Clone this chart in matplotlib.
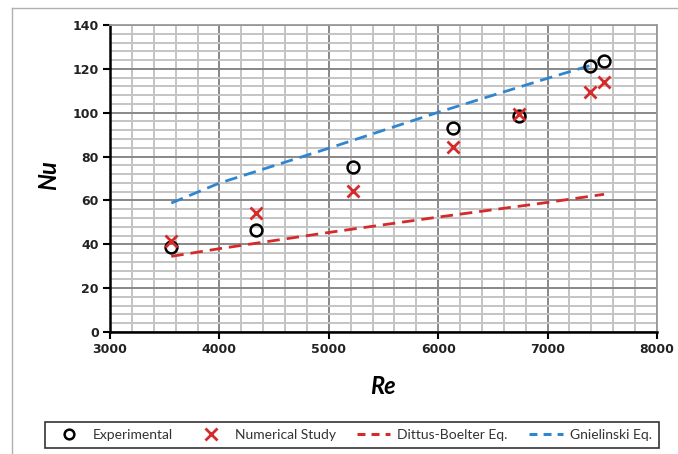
import matplotlib.pyplot as plt
from matplotlib.ticker import MultipleLocator
from matplotlib.lines import Line2D

# values
re_exp = [3560, 4335, 5221, 6135, 6739, 7388, 7516]
nu_exp = [38.8, 46.5, 75.2, 92.9, 98.4, 121.2, 123.5]

re_num = [3558, 4335, 5221, 6135, 6739, 7388, 7516]
nu_num = [41.5, 54.2, 64.3, 84.3, 99.3, 109.3, 113.9]

re_db = [3560, 4000, 5000, 6000, 7000, 7516]
nu_db = [34.5, 38.0, 45.4, 52.4, 59.1, 62.8]

re_gn = [3560, 4000, 5000, 6000, 7000, 7388]
nu_gn = [58.8, 67.9, 83.8, 100.2, 115.7, 121.5]

red = "#d42a2a"
blue = "#2e86d1"

plt.rcParams['font.family'] = ['Lato', 'DejaVu Sans']

fig = plt.figure(figsize=(6.78, 4.54), dpi=100)
ax = fig.add_axes([110/678, 1 - 332/454, 547/678, 307/454])

ax.plot(re_db, nu_db, color=red, lw=2.0, dashes=(4.5, 2.5), zorder=3)
ax.plot(re_gn, nu_gn, color=blue, lw=2.0, dashes=(4.5, 2.5), zorder=3)
ax.plot(re_exp, nu_exp, 'o', mfc='none', mec='black', ms=8.5, mew=1.8, zorder=4)
ax.plot(re_num, nu_num, 'x', color=red, ms=8, mew=2.0, zorder=5)

ax.set_xlim(3000, 8000)
ax.set_ylim(0, 140)
ax.xaxis.set_major_locator(MultipleLocator(1000))
ax.xaxis.set_minor_locator(MultipleLocator(200))
ax.yaxis.set_major_locator(MultipleLocator(20))
ax.yaxis.set_minor_locator(MultipleLocator(4))

ax.grid(which='minor', color='#c4c4c4', lw=1.4)
ax.grid(which='major', color='#888888', lw=1.4)
ax.set_axisbelow(True)

for s in ['top', 'right']:
    ax.spines[s].set_color('#9a9a9a')
    ax.spines[s].set_linewidth(1.3)
for s in ['left', 'bottom']:
    ax.spines[s].set_color('black')
    ax.spines[s].set_linewidth(1.8)

ax.tick_params(which='major', direction='out', length=5, width=1.5, labelsize=9, pad=3)
ax.tick_params(which='minor', length=0)
for lab in ax.get_xticklabels() + ax.get_yticklabels():
    lab.set_fontweight('bold')
    lab.set_family('DejaVu Sans')
    lab.set_color('#222222')

fig.text(383/678, 1 - 387/454, 'Re', ha='center', va='center',
         fontsize=17, fontweight='bold', style='italic')
fig.text(49/678, 1 - 175/454, 'Nu', ha='center', va='center', rotation=90,
         fontsize=17, fontweight='bold', style='italic')

handles = [
    Line2D([], [], ls='none', marker='o', mfc='none', mec='black', ms=7, mew=1.8),
    Line2D([], [], ls='none', marker='x', color=red, ms=8, mew=2.0),
    Line2D([], [], color=red, lw=2.2, dashes=(2.6, 2)),
    Line2D([], [], color=blue, lw=2.2, dashes=(2.6, 2)),
]
labels = ['Experimental', 'Numerical Study', 'Dittus-Boelter Eq.', 'Gnielinski Eq.']
leg = fig.legend(handles, labels, loc='center', ncol=4,
                 bbox_to_anchor=(352/678, 1 - 435/454), fontsize=10,
                 frameon=True, fancybox=False, edgecolor='black',
                 handlelength=2.4, columnspacing=1.55, handletextpad=0.5,
                 borderpad=0.5, borderaxespad=0)
leg.get_frame().set_linewidth(1.2)
for t in leg.get_texts():
    t.set_color('#333333')

# light frame around the picture
fig.add_artist(Line2D([12/678, 12/678], [0, 1 - 8/454], color='#b0b0b0', lw=1.0,
                      transform=fig.transFigure))
fig.add_artist(Line2D([12/678, 1], [1 - 8/454, 1 - 8/454], color='#b0b0b0', lw=1.0,
                      transform=fig.transFigure))

fig.savefig('out.png', dpi=100)
